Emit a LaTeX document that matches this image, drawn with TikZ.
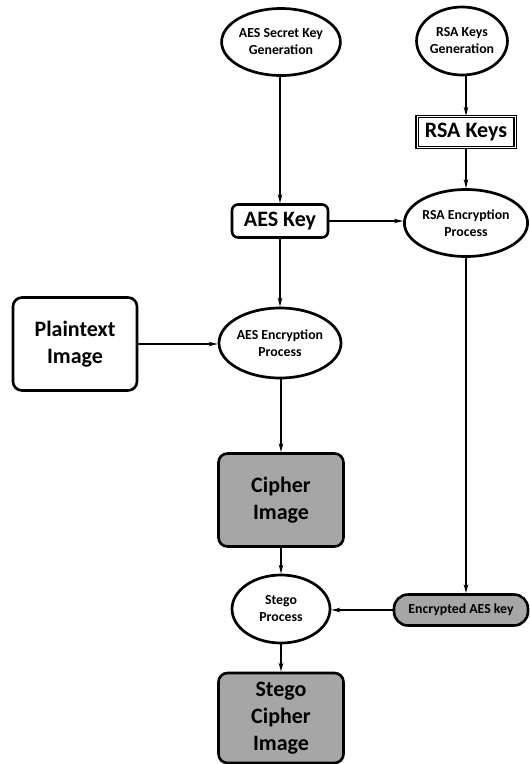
\documentclass[tikz,border=0pt]{standalone}
\usepackage{fontspec}
\setmainfont{Carlito}
\usetikzlibrary{shapes.geometric,arrows.meta}
\definecolor{boxgray}{HTML}{A6A6A6}
\tikzset{
  proc/.style={ellipse, draw=black, line width=2.7pt, fill=white, inner sep=0pt,
    align=center, font=\fontsize{13.8}{17}\selectfont\bfseries},
  bigbox/.style={rectangle, rounded corners=9pt, draw=black, line width=2.6pt,
    inner sep=0pt, align=center, font=\fontsize{22}{27}\selectfont\bfseries},
  graybox/.style={bigbox, fill=boxgray},
  flow/.style={line width=1.9pt, -{Stealth[length=9pt,width=4.5pt]}}
}
\begin{document}
\begin{tikzpicture}[x=1pt,y=-1pt]
  \useasboundingbox (0,0) rectangle (530,764);

  % key generation
  \node[proc, minimum width=97pt, minimum height=67pt] (aesgen) at (281,42) {AES Secret Key\\Generation};
  \node[proc, minimum width=86pt, minimum height=68pt] (rsagen) at (462,41) {RSA Keys\\Generation};
  \node[rectangle, draw=black, double, line width=1.4pt, double distance=1pt,
        minimum width=98pt, minimum height=31pt, inner sep=0pt,
        font=\fontsize{22}{27}\selectfont\bfseries] (rsakeys) at (466,132) {RSA Keys};

  % keys and encryption
  \node[bigbox, rounded corners=6pt, minimum width=96pt, minimum height=33pt] (aeskey) at (280,221) {AES Key};
  \node[proc, minimum width=123pt, minimum height=67pt] (rsaenc) at (466,223) {RSA Encryption\\Process};
  \node[bigbox, minimum width=124pt, minimum height=93pt] (plain) at (75,344) {Plaintext\\Image};
  \node[proc, minimum width=96pt, minimum height=70pt] (aesenc) at (280,343) {AES Encryption\\Process};

  % cipher and stego stage
  \node[graybox, minimum width=125pt, minimum height=93pt] (cipher) at (281,500) {Cipher\\Image};
  \node[proc, minimum width=98pt, minimum height=68pt] (stego) at (281,609) {Stego\\Process};
  \node[rectangle, rounded corners=14pt, draw=black, line width=2.6pt, fill=boxgray,
        minimum width=134pt, minimum height=31pt, inner sep=0pt,
        font=\fontsize{13.8}{17}\selectfont\bfseries] (enckey) at (461,610) {Encrypted AES key};
  \node[graybox, minimum width=125pt, minimum height=90pt] (stegocipher) at (281,718) {Stego\\Cipher\\Image};

  % connectors
  \draw[flow] (aesgen.south -| aeskey.north) -- (aeskey.north);
  \draw[flow] (rsagen.south -| rsakeys.north) -- (rsakeys.north);
  \draw[flow] (rsakeys.south) -- (rsaenc.north);
  \draw[flow] (aeskey.east) -- (rsaenc.west |- aeskey.east);
  \draw[flow] (aeskey.south) -- (aesenc.north);
  \draw[flow] (plain.east) -- (aesenc.west |- plain.east);
  \draw[flow] (aesenc.south -| cipher.north) -- (cipher.north);
  \draw[flow] (cipher.south) -- (stego.north);
  \draw[flow] (rsaenc.south) -- (rsaenc.south |- enckey.north);
  \draw[flow] (enckey.west) -- (stego.east |- enckey.west);
  \draw[flow] (stego.south) -- (stegocipher.north);
\end{tikzpicture}
\end{document}
